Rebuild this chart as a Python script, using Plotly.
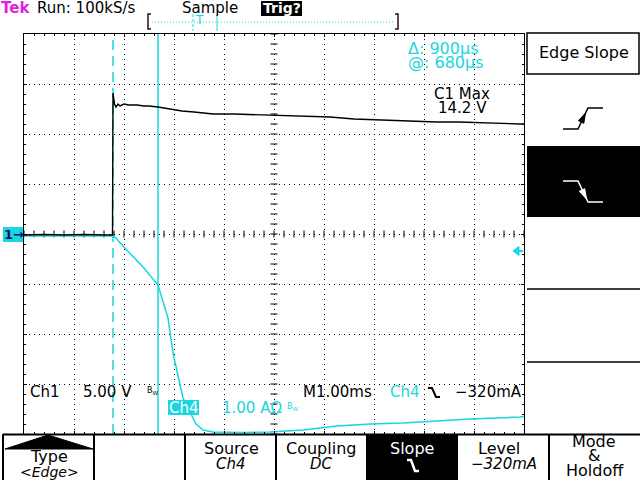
import numpy as np
import plotly.graph_objects as go

W, H = 640, 480

ch1_time_ms = [-2.0, -1.6, -1.2, -0.8, -0.4, -0.23, -0.22, -0.21, -0.19, -0.16, -0.12,
               -0.08, 0.0, 0.1, 0.26, 0.4, 0.5, 0.68, 0.8, 0.98, 1.16, 1.4, 1.78,
               2.2, 2.72, 2.98, 3.5, 4.12, 4.6, 5.18, 5.7, 6.26, 6.7, 7.18, 7.6, 7.92, 8.0]
ch1_volts = [0.0, 0.05, 0.0, 0.05, 0.0, 0.0, 14.2, 13.6, 13.1, 12.8, 13.1,
             12.9, 13.1, 13.0, 13.0, 12.9, 12.9, 12.8, 12.7, 12.6, 12.4, 12.3, 12.1,
             12.1, 12.0, 12.0, 11.9, 11.8, 11.6, 11.5, 11.4, 11.3, 11.3, 11.2, 11.1, 11.1, 11.1]

ch4_time_ms = [-2.0, -1.0, -0.22, -0.16, -0.04, 0.38, 0.68, 0.88, 0.98, 1.18, 1.32,
               1.44, 1.58, 1.78, 2.4, 2.92, 3.58, 4.26, 4.92, 5.58, 6.26, 6.92, 7.92, 8.0]
ch4_amps = [-0.02, -0.02, -0.02, -0.06, -0.20, -0.64, -1.00, -1.66, -2.36, -3.26, -3.54,
            -3.78, -3.90, -3.94, -3.95, -3.94, -3.90, -3.82, -3.78, -3.76, -3.72, -3.68, -3.64, -3.63]

ch1_volts_per_div = 5.0
ch4_amps_per_div = 1.0
ch1_position_div = -0.02
ch4_position_div = -0.02
trigger_level_a = -0.32
cursor1_ms = -0.22
cursor2_ms = 0.68
time_range_ms = [-2.0, 8.0]
div_range = [-4.0, 4.0]

header_texts = ["Run: 100kS/s", "Sample", "Trig?"]
cursor_texts = ["\u0394: 900\u00b5s", "@: 680\u00b5s"]
meas_texts = ["C1 Max", "14.2 V"]
bottom_labels = [("Type", "<i>&lt;Edge&gt;</i>"), ("", ""), ("Source", "<i>Ch4</i>"),
                 ("Coupling", "<i>DC</i>"), ("Slope", ""), ("Level", "<i>\u2212320mA</i>"),
                 ("Mode", "&", "Holdoff")]

# ---------------- styling ----------------
CYAN = "#1ad6de"
TRACE_CYAN = "#14d8e0"
MAGENTA = "#e21ee2"
FONT = "DejaVu Sans"

GX0, GX1, GY0, GY1 = 24, 524, 34, 434  # graticule in pixels


def px(x):
    return x / W


def py(y):
    return 1 - y / H


shapes = []
annotations = []


def seg(x0, y0, x1, y1, color="black", width=1, dash=None):
    d = dict(type="line", xref="paper", yref="paper", x0=px(x0), y0=py(y0), x1=px(x1), y1=py(y1),
             line=dict(color=color, width=width))
    if dash:
        d["line"]["dash"] = dash
    shapes.append(d)


def rect(x0, y0, x1, y1, fill, color=None, width=0):
    shapes.append(dict(type="rect", xref="paper", yref="paper", x0=px(x0), y0=py(y0), x1=px(x1), y1=py(y1),
                       fillcolor=fill, line=dict(color=color or fill, width=width)))


def path(pts, color="black", width=1.5, fill=None, closed=False):
    s = "M " + " L ".join(f"{px(x):.5f},{py(y):.5f}" for x, y in pts)
    if closed:
        s += " Z"
    d = dict(type="path", xref="paper", yref="paper", path=s, line=dict(color=color, width=width))
    if fill:
        d["fillcolor"] = fill
    shapes.append(d)


def text(x, y, s, size=15, color="black", xanchor="left", family=FONT, bg=None):
    a = dict(x=px(x), y=py(y), xref="paper", yref="paper", text=s, showarrow=False,
             xanchor=xanchor, yanchor="middle", font=dict(family=family, size=size, color=color),
             borderpad=0)
    if bg:
        a["bgcolor"] = bg
    annotations.append(a)


fig = go.Figure()

# centre-line ticks of the graticule
cx = np.arange(time_range_ms[0], time_range_ms[1] + 1e-9, 0.2)
cy = np.arange(div_range[0], div_range[1] + 1e-9, 0.2)
xmid = (time_range_ms[0] + time_range_ms[1]) / 2
fig.add_trace(go.Scatter(x=cx, y=[0] * len(cx), mode="markers", hoverinfo="skip",
                         marker=dict(symbol="line-ns", size=5, line=dict(width=1, color="black"))))
fig.add_trace(go.Scatter(x=[xmid] * len(cy), y=cy, mode="markers", hoverinfo="skip",
                         marker=dict(symbol="line-ew", size=5, line=dict(width=1, color="black"))))

# channel traces
fig.add_trace(go.Scatter(x=ch4_time_ms, y=[a / ch4_amps_per_div + ch4_position_div for a in ch4_amps],
                         mode="lines", line=dict(color=TRACE_CYAN, width=1.5), hoverinfo="skip"))
fig.add_trace(go.Scatter(x=ch1_time_ms, y=[v / ch1_volts_per_div + ch1_position_div for v in ch1_volts],
                         mode="lines", line=dict(color="black", width=1.4), hoverinfo="skip"))

# cursors
shapes.append(dict(type="line", xref="x", yref="y", x0=cursor1_ms, x1=cursor1_ms, y0=div_range[0], y1=div_range[1],
                   line=dict(color=TRACE_CYAN, width=1.5, dash="10px,6px"), layer="between"))
shapes.append(dict(type="line", xref="x", yref="y", x0=cursor2_ms, x1=cursor2_ms, y0=div_range[0], y1=div_range[1],
                   line=dict(color=TRACE_CYAN, width=1.5), layer="between"))

# ---------------- header ----------------
text(0, 8, "<b>Tek</b>", 15, MAGENTA)
text(36, 8, header_texts[0], 15)
text(181, 8, header_texts[1], 15)
rect(261, 1, 302, 16, "black")
text(281.5, 8.5, "<b>" + header_texts[2] + "</b>", 14, "white", "center")

# record bar
path([(151, 14), (148, 14), (148, 29), (151, 29)], "#301010", 1.5)
path([(395, 14), (398, 14), (398, 29), (395, 29)], "#301010", 1.5)
seg(152, 22, 395, 22, CYAN, 1, "1px,2px")
seg(193, 14, 193, 31, CYAN, 1, "3px,2px")
seg(217, 14, 217, 31, CYAN, 1)
text(199, 20, "T", 12, CYAN, "center")

# channel / trigger markers
rect(3, 227, 23, 242, CYAN)
text(13.5, 234.5, "<b>1\u2192</b>", 13, "#101070", "center")
path([(513, 251), (519, 246.5), (519, 255.5)], TRACE_CYAN, 1, TRACE_CYAN, True)
seg(519, 251, 523, 251, TRACE_CYAN, 2)

# readouts inside graticule
text(407, 49, cursor_texts[0], 16, CYAN)
text(407, 63, cursor_texts[1], 16, CYAN)
text(462, 94, meas_texts[0], 15, "black", "center")
text(462, 108, meas_texts[1], 15, "black", "center")

text(29, 392, "Ch1", 15)
text(82, 392, "5.00 V", 15)
text(146, 391, "B<sub>W</sub>", 8)
text(302, 392, "M1.00ms", 15)
text(389, 392, "Ch4", 15, CYAN)
path([(428, 388), (432, 388), (436, 397), (440, 397)], "black", 2)
text(454, 392, "\u2212320mA", 15)
rect(168, 400, 199, 415, CYAN)
text(183.5, 408, "Ch4", 15, "white", "center")
text(221, 408, "1.00 A\u03a9", 15, CYAN)
text(286, 407, "B<sub>W</sub>", 8, CYAN)

# ---------------- right side menu ----------------
rect(527, 33, 639, 74, "white", "black", 1.5)
text(584, 53, "Edge Slope", 16, "black", "center")
path([(563, 129), (578, 129), (588, 108), (603, 108)], "black", 1.5)
path([(585.5, 113), (583.8, 123.3), (578.4, 120.7)], "black", 1, "black", True)
rect(527, 146, 640, 217, "black")
path([(563, 181), (578, 181), (588, 202), (603, 202)], "white", 1.5)
path([(586.5, 199), (584.7, 188.7), (579.3, 191.3)], "white", 1, "white", True)
seg(527, 289, 640, 289, "black", 1.5)
seg(527, 362, 640, 362, "black", 1.5)

# ---------------- bottom menu ----------------
rect(367, 434, 457, 480, "black")
seg(3, 434.5, 640, 434.5, "black", 2)
for xv in [3, 94, 185, 276, 367, 457, 549]:
    seg(xv, 434, xv, 480, "black", 2)
path([(5, 449), (48, 435), (93, 449)], "black", 1, "black", True)
text(49, 456, bottom_labels[0][0], 16, "black", "center")
text(49, 472, bottom_labels[0][1], 14, "black", "center")
text(231, 448, bottom_labels[2][0], 16, "black", "center")
text(231, 464, bottom_labels[2][1], 15, "black", "center")
text(321, 448, bottom_labels[3][0], 16, "black", "center")
text(321, 464, bottom_labels[3][1], 15, "black", "center")
text(412, 448, bottom_labels[4][0], 16, "white", "center")
path([(407, 460), (411, 460), (415, 471), (419, 471)], "white", 2.5)
text(499, 448, bottom_labels[5][0], 16, "black", "center")
text(504, 464, bottom_labels[5][1], 15, "black", "center")
text(594, 441, bottom_labels[6][0], 16, "black", "center")
text(594, 455, bottom_labels[6][1], 16, "black", "center")
text(595, 470, bottom_labels[6][2], 16, "black", "center")

axis_common = dict(showticklabels=False, showgrid=True, gridcolor="black", griddash="1px,4px",
                   gridwidth=1, zeroline=False, showline=True, linecolor="black", linewidth=1,
                   mirror="allticks", ticks="inside", ticklen=3, tickcolor="black", dtick=1,
                   fixedrange=True,
                   minor=dict(dtick=0.2, ticks="inside", ticklen=2, tickcolor="black", showgrid=False))

fig.update_layout(
    width=W, height=H, margin=dict(l=0, r=0, t=0, b=0),
    paper_bgcolor="white", plot_bgcolor="white", showlegend=False, hovermode=False,
    xaxis=dict(domain=[GX0 / W, GX1 / W], range=time_range_ms, tick0=time_range_ms[0], **axis_common),
    yaxis=dict(domain=[1 - GY1 / H, 1 - GY0 / H], range=div_range, tick0=div_range[0], **axis_common),
    shapes=shapes, annotations=annotations,
)

fig.write_html("out.html", config={"displayModeBar": False},
               post_script="document.body.style.margin='0';document.body.style.overflow='hidden';")
